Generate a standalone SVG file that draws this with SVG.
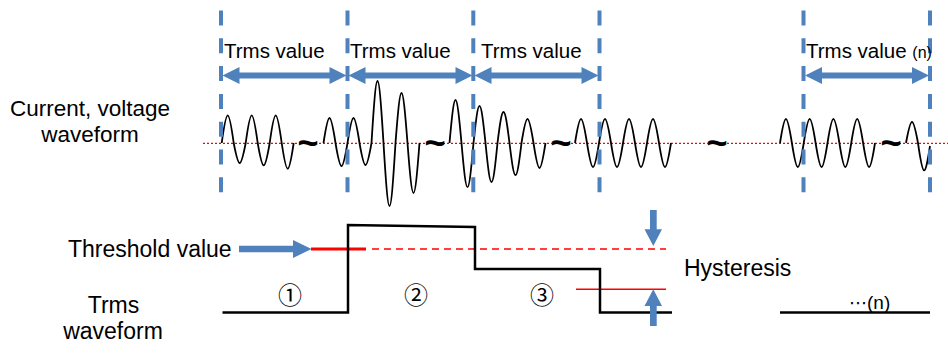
<svg xmlns="http://www.w3.org/2000/svg" xmlns:xlink="http://www.w3.org/1999/xlink" width="948" height="360" viewBox="0 0 948 360">
<style>
text{font-family:"Liberation Sans",Arial,sans-serif;fill:#000}
.lbl{font-size:22.5px}
.big{font-size:23px}
.tv{font-size:20.5px}
.circ{font-family:"Noto Sans CJK JP","DejaVu Sans",sans-serif;font-size:24px;text-anchor:middle}
.tilde{font-size:36px;font-weight:bold;text-anchor:middle}
.wave{fill:none;stroke:#000;stroke-width:1.8;stroke-linejoin:round}
.vdash{stroke:#4F81BD;stroke-width:4;stroke-dasharray:15 12.8}
.blue{fill:#4F81BD}
.trms{fill:none;stroke:#000;stroke-width:2.5}
.zero{stroke:#FF0000;stroke-width:1.3;stroke-dasharray:2 2}
</style>
<defs>
<polygon id="dbl" points="0,75.5 17,67 17,72.5 107,72.5 107,67 124,75.5 107,84 107,78.5 17,78.5 17,84"/>
</defs>
<rect width="948" height="360" fill="#fff"/>

<g id="labels">
<text class="lbl" x="90" y="116" text-anchor="middle">Current, voltage</text>
<text class="lbl" x="90" y="142" text-anchor="middle">waveform</text>
<text class="big" x="68" y="256.5">Threshold value</text>
<text class="big" x="113.5" y="312.5" text-anchor="middle">Trms</text>
<text class="big" x="113" y="339" text-anchor="middle">waveform</text>
<text class="big" x="684" y="276">Hysteresis</text>
</g>

<line id="zero-line" class="zero" x1="203" y1="143.3" x2="948" y2="143.3"/>

<g id="waveform">
<path class="wave" d="M221.7,143 C226.8,106.2 228.6,106.2 233.7,143 C238.8,169.7 240.6,169.7 245.7,143 C250.8,106.2 252.6,106.2 257.7,143 C262.8,172.9 264.6,172.9 269.7,143 C274.8,106.2 276.6,106.2 281.7,143 C286.8,177.3 288.6,177.3 293.7,143"/>
<path class="wave" d="M323.5,143 C328.6,109.7 330.4,109.7 335.5,143 C340.6,173.7 342.4,173.7 347.5,143 C352.6,109.7 354.4,109.7 359.5,143 C364.6,172.3 366.4,172.3 371.5,143 C376.6,60.3 378.4,60.3 383.5,143 C388.6,227 390.4,227 395.5,143 C400.6,76.3 402.4,76.3 407.5,143 C412.6,209.7 414.4,209.7 419.5,143"/>
<path class="wave" d="M449.5,143 C454.6,85.7 456.4,85.7 461.5,143 C466.6,201.7 468.4,201.7 473.5,143 C478.6,93.7 480.4,93.7 485.5,143 C490.6,195 492.4,195 497.5,143 C502.6,101.7 504.4,101.7 509.5,143 C514.6,185.7 516.4,185.7 521.5,143 C526.6,111 528.4,111 533.5,143 C538.6,176.3 540.4,176.3 545.5,143"/>
<path class="wave" d="M575,143 C580.1,111 581.9,111 587,143 C592.1,175 593.9,175 599,143 C604.1,111 605.9,111 611,143 C616.1,175 617.9,175 623,143 C628.1,111 629.9,111 635,143 C640.1,175 641.9,175 647,143 C652.1,111 653.9,111 659,143 C664.1,175 665.9,175 671,143"/>
<path class="wave" d="M780,143 C785,111 786.8,111 791.9,143 C796.9,175 798.7,175 803.75,143 C808.8,111 810.6,111 815.6,143 C820.7,175 822.5,175 827.5,143 C832.5,111 834.3,111 839.4,143 C844.4,175 846.2,175 851.25,143 C856.3,111 858.1,111 863.1,143 C868.2,175 870,175 875,143"/>
<path class="wave" d="M906,143 C911.1,115 912.9,115 918,143 C923.1,179 924.9,179 930,146"/>
<text class="tilde" x="308" y="155">~</text>
<text class="tilde" x="435" y="155">~</text>
<text class="tilde" x="561" y="155">~</text>
<text class="tilde" x="717" y="155">~</text>
<text class="tilde" x="891" y="155">~</text>
</g>

<g id="dividers">
<line class="vdash" x1="221" y1="10.5" x2="221" y2="193"/>
<line class="vdash" x1="347.5" y1="10.5" x2="347.5" y2="193"/>
<line class="vdash" x1="473.3" y1="10.5" x2="473.3" y2="193"/>
<line class="vdash" x1="599.5" y1="10.5" x2="599.5" y2="193"/>
<line class="vdash" x1="803.5" y1="10.5" x2="803.5" y2="193"/>
<line class="vdash" x1="930" y1="10.5" x2="930" y2="193"/>
</g>

<g id="trms-intervals">
<use xlink:href="#dbl" class="blue" x="222.5"/>
<use xlink:href="#dbl" class="blue" x="348.5"/>
<use xlink:href="#dbl" class="blue" x="474.5"/>
<use xlink:href="#dbl" class="blue" x="805"/>
<text class="tv" x="224" y="58">Trms value</text>
<text class="tv" x="350" y="58">Trms value</text>
<text class="tv" x="481" y="58">Trms value</text>
<text class="tv" x="806" y="58">Trms value <tspan font-size="16">(n)</tspan></text>
</g>

<g id="threshold">
<line x1="372" y1="249" x2="666" y2="249" stroke="#FF0000" stroke-width="1.5" stroke-dasharray="7 5"/>
<line x1="576" y1="289.3" x2="666" y2="289.3" stroke="#FF0000" stroke-width="1.5"/>
<line x1="311" y1="249" x2="366" y2="249" stroke="#FF0000" stroke-width="3"/>
<polygon class="blue" points="239,245.8 293,245.8 293,240 311.5,249 293,258 293,252.2 239,252.2"/>
</g>

<g id="trms-waveform">
<polyline class="trms" points="222.5,312.5 348,312.5 348,225 475,227 475,269 600,269 600,312.5 672,312.5"/>
<line class="trms" x1="780" y1="312.5" x2="930" y2="312.5"/>
<text class="circ" x="290" y="304">①</text>
<text class="circ" x="416" y="304">②</text>
<text class="circ" x="542" y="304">③</text>
<text x="849" y="309"><tspan font-family="DejaVu Sans" font-size="18">⋯</tspan><tspan font-size="19">(n)</tspan></text>
</g>

<g id="hysteresis-arrows">
<polygon class="blue" points="650,210 656.7,210 656.7,229.3 662,229.3 653.3,246 644.5,229.3 650,229.3"/>
<polygon class="blue" points="653.3,289.3 662,306 656.7,306 656.7,326 650,326 650,306 644.5,306"/>
</g>
</svg>
